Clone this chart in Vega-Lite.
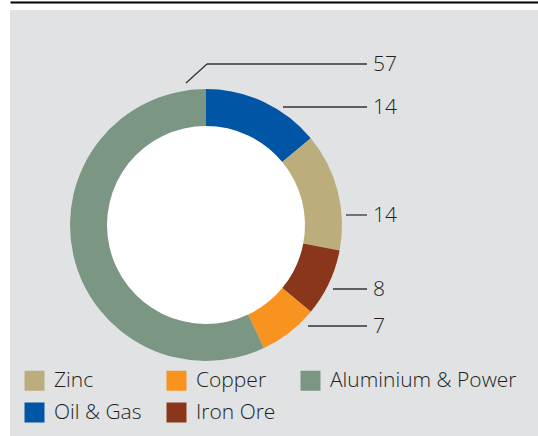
{
  "$schema": "https://vega.github.io/schema/vega-lite/v6.json",
  "width": 528,
  "height": 426,
  "autosize": {"type": "none"},
  "padding": {"left": 10, "top": 10, "right": 0, "bottom": 0},
  "background": "#ffffff",
  "config": {
    "view": {"fill": "#e1e2e4", "stroke": null},
    "font": "Open Sans"
  },
  "datasets": {
    "shares": [
      {"category": "Oil & Gas", "value": 14, "rank": 1},
      {"category": "Zinc", "value": 14, "rank": 2},
      {"category": "Iron Ore", "value": 8, "rank": 3},
      {"category": "Copper", "value": 7, "rank": 4},
      {"category": "Aluminium & Power", "value": 57, "rank": 5}
    ],
    "callouts": [
      {"category": "Aluminium & Power", "label": "", "x": 176, "x2": 197, "y": 73, "y2": 54},
      {"category": "Aluminium & Power", "label": "57", "x": 197, "x2": 357, "y": 54, "y2": 54},
      {"category": "Oil & Gas", "label": "14", "x": 273, "x2": 357, "y": 97, "y2": 97},
      {"category": "Zinc", "label": "14", "x": 336, "x2": 357, "y": 205, "y2": 205},
      {"category": "Iron Ore", "label": "8", "x": 323, "x2": 357, "y": 279, "y2": 279},
      {"category": "Copper", "label": "7", "x": 298, "x2": 357, "y": 316, "y2": 316}
    ]
  },
  "layer": [
    {
      "data": {"name": "shares"},
      "mark": {"type": "arc", "outerRadius": 100, "innerRadius": 0, "stroke": "#ffffff", "strokeWidth": 1.5, "color": "#ffffff"},
      "encoding": {
        "x": {"datum": 196, "type": "quantitative", "scale": {"domain": [0, 528], "nice": false, "zero": false}, "axis": {"orient": "top", "domain": true, "domainColor": "#000000", "domainWidth": 2, "ticks": false, "labels": false, "grid": false, "title": null, "offset": 8}},
        "y": {"datum": 215, "type": "quantitative", "scale": {"domain": [0, 426], "nice": false, "zero": false, "reverse": true}, "axis": null},
        "theta": {"field": "value", "type": "quantitative", "stack": true},
        "order": {"field": "rank", "type": "quantitative"}
      }
    },
    {
      "data": {"name": "shares"},
      "mark": {"type": "arc", "outerRadius": 136, "innerRadius": 99, "stroke": null},
      "encoding": {
        "x": {"datum": 196, "type": "quantitative", "scale": {"domain": [0, 528], "nice": false, "zero": false}},
        "y": {"datum": 215, "type": "quantitative", "scale": {"domain": [0, 426], "nice": false, "zero": false, "reverse": true}},
        "theta": {"field": "value", "type": "quantitative", "stack": true},
        "order": {"field": "rank", "type": "quantitative"},
        "color": {
          "field": "category",
          "type": "nominal",
          "scale": {
            "domain": ["Zinc", "Copper", "Aluminium & Power", "Oil & Gas", "Iron Ore"],
            "range": ["#bbae7c", "#f7931e", "#7b9683", "#0055a5", "#8a361b"]
          },
          "legend": {
            "orient": "none",
            "legendX": 14,
            "legendY": 360,
            "direction": "horizontal",
            "columns": 3,
            "title": null,
            "padding": 0,
            "symbolType": "square",
            "symbolSize": 400,
            "symbolStrokeWidth": 0,
            "symbolOpacity": 1,
            "labelFontSize": 21,
            "labelFont": "Open Sans",
            "labelFontWeight": 300,
            "labelColor": "#231f20",
            "labelOffset": 9,
            "columnPadding": 24,
            "rowPadding": 10,
            "labelLimit": 300
          }
        }
      }
    },
    {
      "data": {"name": "callouts"},
      "mark": {"type": "rule", "color": "#333333", "strokeWidth": 1.3},
      "encoding": {
        "x": {"field": "x", "type": "quantitative", "scale": {"domain": [0, 528], "nice": false, "zero": false}},
        "x2": {"field": "x2"},
        "y": {"field": "y", "type": "quantitative", "scale": {"domain": [0, 426], "nice": false, "zero": false, "reverse": true}},
        "y2": {"field": "y2"}
      }
    },
    {
      "data": {"name": "callouts"},
      "transform": [{"filter": "datum.label != ''"}],
      "mark": {"type": "text", "align": "left", "baseline": "middle", "dx": 6, "dy": 1, "fontSize": 21, "fontWeight": 300, "font": "Open Sans", "color": "#231f20"},
      "encoding": {
        "x": {"field": "x2", "type": "quantitative", "scale": {"domain": [0, 528], "nice": false, "zero": false}},
        "y": {"field": "y2", "type": "quantitative", "scale": {"domain": [0, 426], "nice": false, "zero": false, "reverse": true}},
        "text": {"field": "label"}
      }
    }
  ]
}
